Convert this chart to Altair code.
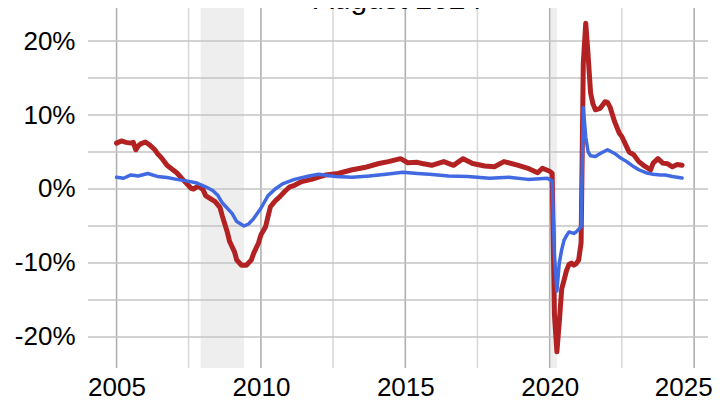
import altair as alt
import pandas as pd

title_text = "August 2024"

red_dates = ["2005-01","2005-03","2005-05","2005-07","2005-08","2005-09","2005-10","2005-11","2006-01","2006-03",
             "2006-05","2006-06","2006-08","2006-10","2006-12","2007-02","2007-04","2007-06","2007-08","2007-09",
             "2007-11","2008-01","2008-02","2008-04","2008-06","2008-08","2008-09","2008-11","2008-12","2009-02",
             "2009-03","2009-05","2009-07","2009-09","2009-10","2009-12","2010-01","2010-03","2010-04","2010-05",
             "2010-07","2010-09","2010-11","2011-01","2011-03","2011-06","2011-10","2012-04","2012-09","2013-03",
             "2013-08","2014-02","2014-06","2014-11","2015-02","2015-06","2015-08","2015-12","2016-05","2016-09",
             "2017-01","2017-05","2017-10","2018-02","2018-06","2018-12","2019-04","2019-08","2019-10","2020-01",
             "2020-02","2020-03","2020-04","2020-05","2020-06","2020-07","2020-08","2020-09","2020-10","2020-11",
             "2020-12","2021-01","2021-02","2021-03","2021-04","2021-05","2021-06","2021-07","2021-08","2021-10",
             "2021-12","2022-01","2022-02","2022-04","2022-06","2022-07","2022-09","2022-10","2022-12","2023-02",
             "2023-04","2023-07","2023-08","2023-10","2023-12","2024-02","2024-04","2024-06","2024-08"]
red_values = [6.2,6.5,6.3,6.2,6.3,5.3,5.8,6.1,6.35,5.9,
              5.3,4.8,4.1,3.2,2.7,2.2,1.5,0.8,0.1,0.0,
              0.4,-0.1,-0.9,-1.3,-1.7,-2.5,-3.7,-5.8,-7.1,-8.5,
              -9.6,-10.3,-10.3,-9.6,-8.7,-7.3,-6.2,-5.1,-3.7,-2.4,
              -1.6,-1.0,-0.3,0.3,0.5,1.0,1.3,1.9,2.1,2.6,
              2.9,3.45,3.7,4.1,3.55,3.6,3.45,3.2,3.7,3.2,
              4.1,3.45,3.1,3.0,3.7,3.2,2.8,2.2,2.8,2.4,
              2.1,-17.0,-22.0,-18.0,-13.5,-12.3,-11.0,-10.2,-10.0,-10.3,
              -10.1,-9.6,-7.3,17.0,22.4,18.0,13.0,11.5,10.7,10.9,
              11.8,11.7,11.1,9.1,7.5,7.1,5.7,5.0,4.6,3.7,
              3.2,2.6,3.5,4.1,3.5,3.4,3.0,3.3,3.2]

blue_dates = ["2005-01","2005-04","2005-07","2005-10","2006-02","2006-06","2006-10","2007-02","2007-06","2007-10",
              "2008-02","2008-05","2008-07","2008-09","2009-01","2009-03","2009-06","2009-08","2009-10","2010-01",
              "2010-04","2010-07","2010-10","2011-03","2011-09","2012-01","2012-08","2013-03","2013-10","2014-05",
              "2014-12","2015-06","2015-11","2016-07","2017-03","2017-12","2018-08","2019-04","2019-12","2020-02",
              "2020-03","2020-04","2020-05","2020-06","2020-07","2020-08","2020-09","2020-11","2020-12","2021-02",
              "2021-03","2021-04","2021-05","2021-06","2021-08","2021-10","2022-01","2022-04","2022-06","2022-09",
              "2022-12","2023-02","2023-05","2023-08","2023-11","2024-01","2024-04","2024-08"]
blue_values = [1.6,1.45,1.9,1.75,2.1,1.7,1.55,1.3,1.1,0.85,
               0.3,-0.2,-0.8,-1.9,-3.3,-4.4,-5.0,-4.7,-4.0,-2.6,
               -0.9,0.0,0.7,1.3,1.75,2.0,1.7,1.6,1.75,2.0,
               2.25,2.1,2.0,1.75,1.7,1.45,1.6,1.3,1.45,1.1,
               -9.0,-13.8,-10.0,-8.2,-6.9,-6.3,-5.8,-6.0,-5.8,-5.1,
               11.0,7.0,5.0,4.5,4.4,4.8,5.3,4.8,4.3,3.7,
               3.0,2.6,2.2,2.0,1.9,1.9,1.7,1.5]

recession_start = ["2007-12-01", "2020-01-15"]
recession_end = ["2009-06-01", "2020-04-01"]

x_major = ["2005-01-01", "2010-01-01", "2015-01-01", "2020-01-01", "2025-01-01"]
x_minor = ["2007-07-01", "2012-07-01", "2017-07-01", "2022-07-01"]
y_grid = [-20, -15, -10, -5, 0, 5, 10, 15, 20]
y_labels = [-20, -10, 0, 10, 20]

red_df = pd.DataFrame({"date": [d + "-01" for d in red_dates], "value": red_values})
blue_df = pd.DataFrame({"date": [d + "-01" for d in blue_dates], "value": blue_values})
rec_df = pd.DataFrame({"date": recession_start, "date_end": recession_end})
xmaj_df = pd.DataFrame({"date": x_major})
xmin_df = pd.DataFrame({"date": x_minor})
yg_df = pd.DataFrame({"value": y_grid})
title_df = pd.DataFrame({"t": [title_text]})

W, H = 620, 360
xscale = alt.Scale(type="utc", domain=[alt.DateTime(year=2004, month=1, date=6, utc=True),
                                       alt.DateTime(year=2025, month=6, date=25, utc=True)])
yscale = alt.Scale(domain=[-24.19, 24.46], nice=False, zero=False)

font = "Liberation Sans"
xaxis = alt.Axis(values=[alt.DateTime(year=int(d[:4]), month=1, date=1, utc=True) for d in x_major],
                 format="%Y", grid=False, ticks=False, domain=False, labelFontSize=26,
                 labelFont=font, labelColor="#000000", labelPadding=6, title=None,
                 labelFlush=16, labelFlushOffset=18)
yaxis = alt.Axis(values=y_labels, labelExpr="datum.value + '%'", grid=False, ticks=False, domain=False,
                 labelFontSize=26, labelFont=font, labelColor="#000000", labelPadding=13, title=None)

bands = alt.Chart(rec_df).mark_rect(color="#eeeeee").encode(
    x=alt.X("date:T", scale=xscale, axis=xaxis, title=None), x2="date_end:T")

vminor = alt.Chart(xmin_df).mark_rule(color="#d9d9d9", strokeWidth=1.6).encode(
    x=alt.X("date:T", scale=xscale, title=None), y=alt.value(0), y2=alt.value(H))
vmajor = alt.Chart(xmaj_df).mark_rule(color="#b0b0b0", strokeWidth=1.6).encode(
    x=alt.X("date:T", scale=xscale, title=None), y=alt.value(0), y2=alt.value(H))
hgrid = alt.Chart(yg_df).mark_rule(color="#c4c4c4", strokeWidth=1.6).encode(
    y=alt.Y("value:Q", scale=yscale, axis=yaxis, title=None), x=alt.value(0), x2=alt.value(W))

red = alt.Chart(red_df).mark_line(color="#b22222", strokeWidth=5, strokeJoin="round", strokeCap="round").encode(
    x=alt.X("date:T", scale=xscale, title=None), y=alt.Y("value:Q", scale=yscale, title=None))
blue = alt.Chart(blue_df).mark_line(color="#4169e1", strokeWidth=3.5, strokeJoin="round", strokeCap="round").encode(
    x=alt.X("date:T", scale=xscale, title=None), y=alt.Y("value:Q", scale=yscale, title=None))

title = alt.Chart(title_df).mark_text(fontSize=30, font=font, color="#000000", baseline="alphabetic",
                                      align="center").encode(
    text="t:N", x=alt.value(310), y=alt.value(1))

chart = alt.layer(bands, vminor, vmajor, hgrid, red, blue, title).properties(
    width=W, height=H,
    autosize=alt.AutoSizeParams(type="none"),
    padding={"left": 80, "top": 0, "right": 6, "bottom": 34},
).configure_view(stroke=None)

chart.save("out.html", embed_options={"renderer": "svg", "actions": False})
